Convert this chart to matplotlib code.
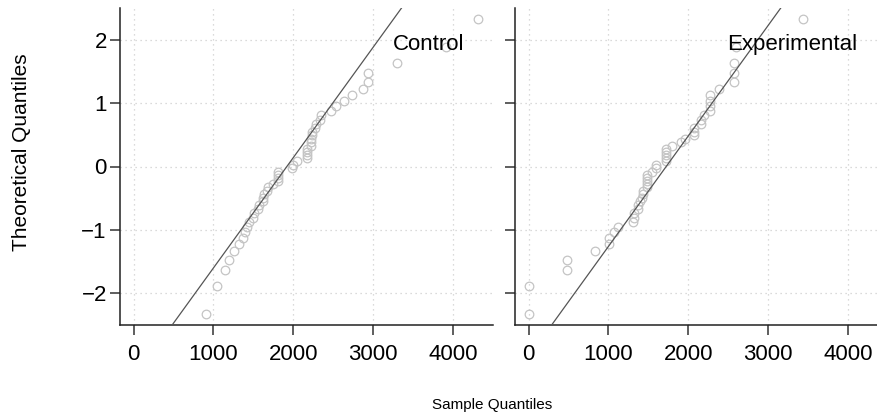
import matplotlib
matplotlib.use("Agg")
import matplotlib.pyplot as plt

plt.rcParams['font.family'] = ['Liberation Sans', 'DejaVu Sans']

# theoretical normal quantiles (y axis), same 50 levels in both panels
theo_q = [-2.33, -1.88, -1.64, -1.48, -1.34, -1.23, -1.13, -1.04, -0.95, -0.88,
          -0.81, -0.74, -0.67, -0.61, -0.55, -0.50, -0.44, -0.39, -0.33, -0.28,
          -0.23, -0.18, -0.13, -0.08, -0.03, 0.03, 0.08, 0.13, 0.18, 0.23,
          0.28, 0.33, 0.39, 0.44, 0.50, 0.55, 0.61, 0.67, 0.74, 0.81,
          0.88, 0.95, 1.04, 1.13, 1.23, 1.34, 1.48, 1.64, 1.88, 2.33]

# sorted sample values
control = [904, 1050, 1142, 1200, 1263, 1325, 1375, 1396, 1425, 1450,
           1492, 1508, 1554, 1571, 1617, 1625, 1629, 1667, 1679, 1742,
           1804, 1804, 1804, 1804, 1979, 1992, 2050, 2167, 2167, 2167,
           2167, 2225, 2225, 2225, 2229, 2229, 2267, 2279, 2333, 2342,
           2467, 2529, 2638, 2733, 2875, 2938, 2938, 3300, 3917, 4313]
experimental = [0, 0, 475, 475, 833, 1008, 1008, 1071, 1125, 1304,
                1317, 1317, 1375, 1375, 1396, 1421, 1433, 1433, 1483, 1483,
                1483, 1483, 1483, 1542, 1600, 1600, 1721, 1721, 1721, 1721,
                1721, 1792, 1908, 1958, 2071, 2071, 2071, 2154, 2154, 2200,
                2267, 2267, 2267, 2267, 2388, 2567, 2567, 2567, 2600, 3438]

# reference lines: sample value where line crosses 0, and slope (per unit of sample)
line_center = [1919, 1723]
line_slope = [0.001741, 0.001743]

panel_names = ["Control", "Experimental"]
x_ticks = [0, 1000, 2000, 3000, 4000]
y_ticks = [-2, -1, 0, 1, 2]
xlim = (-170, 4500)
ylim = (-2.5, 2.5)

W, H = 878, 417
fig = plt.figure(figsize=(W / 100, H / 100), dpi=100)

samples = [control, experimental]
lefts = [120, 515]
for k in range(2):
	ax = fig.add_axes([lefts[k] / W, (H - 325) / H, 373 / W, 317 / H])
	ax.set_xlim(*xlim)
	ax.set_ylim(*ylim)
	ax.set_xticks(x_ticks)
	ax.set_yticks(y_ticks)
	ax.grid(True, linestyle=(0, (1, 3)), color='#cfcfcf', linewidth=0.9)
	ax.set_axisbelow(True)
	for s in ('top', 'right'):
		ax.spines[s].set_visible(False)
	for s in ('left', 'bottom'):
		ax.spines[s].set_linewidth(1.1)
		ax.spines[s].set_color('#222222')
	ax.tick_params(direction='out', length=7.5, width=1.1, color='#333333',
	               labelsize=16, pad=6)
	ax.tick_params(axis='y', pad=2)
	if k == 1:
		ax.tick_params(axis='y', labelleft=False)

	ax.plot(samples[k], theo_q, linestyle='none', marker='o', ms=6.2,
	        mfc='none', mec='#c4c4c4', mew=0.9, clip_on=False, zorder=2)
	x0, x1 = xlim
	ax.plot([x0, x1], [(x0 - line_center[k]) * line_slope[k],
	                   (x1 - line_center[k]) * line_slope[k]],
	        color='#555555', lw=0.9, zorder=3)
	tx = 3246 if k == 0 else 2480
	ax.text(tx, 1.92, panel_names[k], fontsize=16, ha='left', va='center', zorder=4)

fig.text(22 / W, 1 - 152 / H, "Theoretical Quantiles", rotation=90,
         fontsize=15, ha='center', va='center')
fig.text(492 / W, 1 - 405 / H, "Sample Quantiles", fontsize=11,
         ha='center', va='center')

fig.savefig("out.png", dpi=100)
